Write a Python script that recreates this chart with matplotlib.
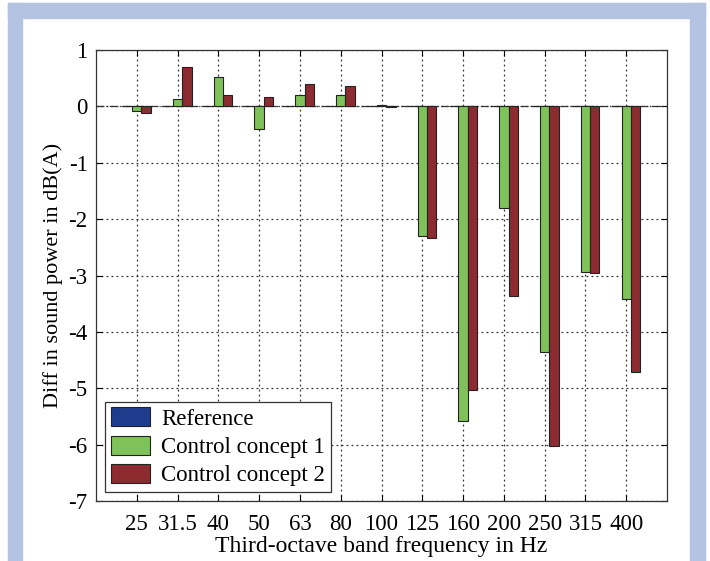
import numpy as np
import matplotlib.pyplot as plt
from matplotlib.patches import Rectangle

plt.rcParams['font.family'] = ['Liberation Serif', 'DejaVu Serif']
plt.rcParams['axes.unicode_minus'] = False

# Terzband-Mittenfrequenzen und Pegeldifferenzen in dB(A)
bands = ["25", "31.5", "40", "50", "63", "80", "100", "125", "160", "200", "250", "315", "400"]
reference = [0, 0, 0, 0, 0, 0, 0, 0, 0, 0, 0, 0, 0]
concept1 = [-0.08, 0.13, 0.52, -0.40, 0.20, 0.21, 0.02, -2.30, -5.58, -1.80, -4.36, -2.93, -3.42]
concept2 = [-0.12, 0.69, 0.20, 0.16, 0.40, 0.36, -0.01, -2.34, -5.03, -3.37, -6.02, -2.96, -4.71]

fig = plt.figure(figsize=(7.1, 5.61), dpi=100)

# hellblauer Rahmen um die Grafik
frame_col = "#b5c3e2"
W, H = 710, 561
fig.patches.append(Rectangle((8 / W, 0), 14 / W, 1 - 3 / H, transform=fig.transFigure, color=frame_col, zorder=0))
fig.patches.append(Rectangle((8 / W, 1 - 18 / H), 697 / W, 15 / H, transform=fig.transFigure, color=frame_col, zorder=0))
fig.patches.append(Rectangle((690 / W, 0), 15 / W, 1 - 3 / H, transform=fig.transFigure, color=frame_col, zorder=0))

ax = fig.add_axes([96 / W, 1 - 501 / H, 571 / W, 451 / H])

x = np.arange(1, len(bands) + 1)
w = 0.23
ax.bar(x - w, reference, w, color="#1f3c8c", edgecolor="#222222", linewidth=0.8, label="Reference", zorder=3)
ax.bar(x, concept1, w, color="#80c25a", edgecolor="#222222", linewidth=0.8, label="Control concept 1", zorder=3)
ax.bar(x + w, concept2, w, color="#8c2b30", edgecolor="#222222", linewidth=0.8, label="Control concept 2", zorder=3)

ax.axhline(0, color="#333333", linestyle="-.", linewidth=0.9, zorder=2)

ax.set_xlim(0, 14)
ax.set_ylim(-7, 1)
ax.set_xticks(x)
ax.set_xticklabels(bands)
ax.set_yticks(range(-7, 2))
ax.tick_params(direction="in", labelsize=16.5, length=4, top=True, right=True)
ax.tick_params(axis="x", pad=9)
ax.tick_params(axis="y", pad=6)
ax.grid(True, linestyle=(0, (1.5, 2.5)), color="#333333", linewidth=0.9, zorder=1)
for s in ax.spines.values():
    s.set_color("#333333")
    s.set_linewidth(0.9)

ax.set_xlabel("Third-octave band frequency in Hz", fontsize=17, labelpad=1)
ax.set_ylabel("Diff in sound power in dB(A)", fontsize=16, labelpad=4)

leg = ax.legend(loc="lower left", fontsize=16.5, fancybox=False, edgecolor="#333333",
                handlelength=1.7, handleheight=0.9, borderaxespad=0.4, borderpad=0.25,
                labelspacing=0.25, handletextpad=0.5, framealpha=1)
leg.get_frame().set_linewidth(0.9)

fig.savefig("out.png", dpi=100)
